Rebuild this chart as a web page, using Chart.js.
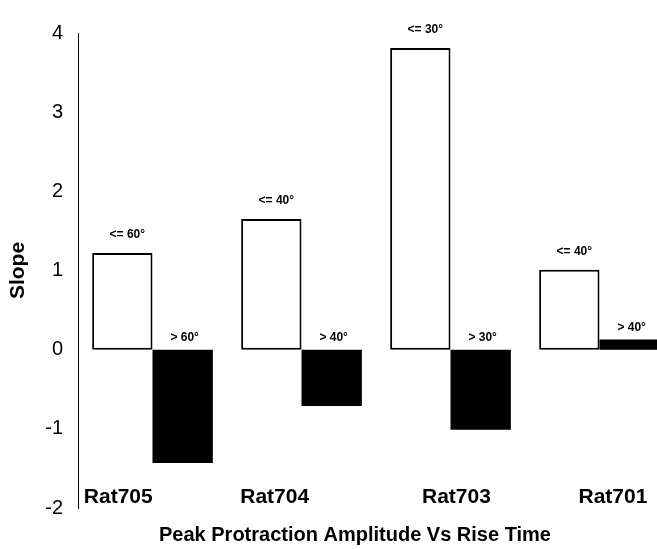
<!DOCTYPE html>
<html>
<head>
<meta charset="utf-8">
<script src="https://cdn.jsdelivr.net/npm/chart.js@4.4.1/dist/chart.umd.min.js"></script>
<style>
  html, body { margin: 0; padding: 0; background: #fff; overflow: hidden; }
  #wrap { width: 710px; height: 549px; }
</style>
</head>
<body>
<div id="wrap"><canvas id="slopeChart" width="710" height="549"></canvas></div>
<script>
const categories = ['Rat705', 'Rat704', 'Rat703', 'Rat701'];
const lowSlope = [1.22, 1.65, 3.81, 1.01];
const highSlope = [-1.43, -0.71, -1.01, 0.13];
const lowTags = ['<= 60°', '<= 40°', '<= 30°', '<= 40°'];
const highTags = ['> 60°', '> 40°', '> 30°', '> 40°'];

// where the rat names sit along the bottom (in category units)
const nameSpots = [0.27, 1.32, 2.54, 3.59];

const fontFamily = '"Liberation Sans", Arial, sans-serif';

// angle tags written above each bar
const barTags = {
    id: 'barTags',
    afterDatasetsDraw(chart) {
        const ctx = chart.ctx;
        ctx.save();
        ctx.font = 'bold 12px ' + fontFamily;
        ctx.fillStyle = '#000';
        ctx.textAlign = 'center';
        ctx.textBaseline = 'middle';
        chart.data.datasets.forEach((ds, i) => {
            chart.getDatasetMeta(i).data.forEach((bar, j) => {
                const top = Math.min(bar.y, bar.base);
                ctx.fillText(ds.tags[j], bar.x + ds.tagShift, top - ds.tagGap);
            });
        });
        ctx.restore();
    }
};

new Chart(document.getElementById('slopeChart'), {
    type: 'bar',
    data: {
        labels: categories,
        datasets: [
            {
                data: lowSlope,
                tags: lowTags,
                tagGap: 18,
                tagShift: 5,
                xAxisID: 'x',
                yAxisID: 'y',
                backgroundColor: '#fff',
                borderColor: '#000',
                borderWidth: 2,
                borderSkipped: false
            },
            {
                data: highSlope,
                tags: highTags,
                tagGap: 12,
                tagShift: 2,
                xAxisID: 'x',
                yAxisID: 'y',
                backgroundColor: '#000',
                borderColor: '#000',
                borderWidth: 0
            }
        ]
    },
    options: {
        responsive: false,
        animation: false,
        categoryPercentage: 0.81,
        barPercentage: 1,
        layout: { padding: { top: 33, bottom: 2, left: 0, right: 0 } },
        plugins: {
            legend: { display: false },
            tooltip: { enabled: false },
            title: {
                display: true,
                position: 'bottom',
                text: 'Peak Protraction Amplitude Vs Rise Time',
                color: '#000',
                font: { family: fontFamily, size: 20, weight: 'bold' },
                padding: { top: 12, bottom: 0 }
            }
        },
        scales: {
            x: { display: false },
            // rat names sit just above the -2 line (mirrored into the plot)
            names: {
                type: 'linear',
                position: 'bottom',
                offset: false,
                min: 0,
                max: 4,
                afterBuildTicks: s => { s.ticks = nameSpots.map(v => ({ value: v })); },
                afterFit: s => { s.height = 3; },
                grid: { display: false, drawTicks: false },
                border: { display: false },
                ticks: {
                    mirror: true,
                    autoSkip: false,
                    maxRotation: 0,
                    padding: -2,
                    color: '#000',
                    font: { family: fontFamily, size: 21, weight: 'bold' },
                    callback: (v, i) => categories[i]
                }
            },
            y: {
                min: -2,
                max: 4,
                afterFit: s => { s.width = 78; },
                grid: { display: false, drawTicks: false },
                border: { display: true, color: '#000', width: 1 },
                ticks: {
                    stepSize: 1,
                    padding: 15,
                    color: '#000',
                    font: { family: fontFamily, size: 20 }
                },
                title: {
                    display: true,
                    text: 'Slope',
                    color: '#000',
                    font: { family: fontFamily, size: 21, weight: 'bold' },
                    padding: { top: 6, bottom: 0 }
                }
            },
            // empty strip on the right so the plot runs past the window edge
            spare: {
                type: 'linear',
                position: 'right',
                afterFit: s => { s.width = 36; },
                grid: { display: false, drawTicks: false },
                border: { display: false },
                ticks: { display: false }
            }
        }
    },
    plugins: [barTags]
});
</script>
</body>
</html>
